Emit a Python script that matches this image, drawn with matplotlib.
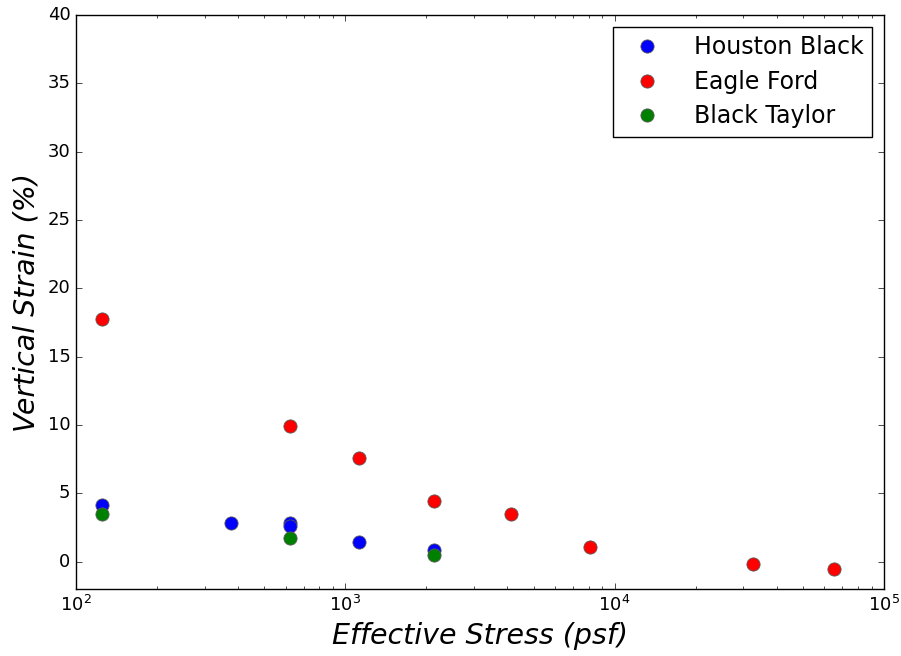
import matplotlib
matplotlib.use('Agg')
import matplotlib.pyplot as plt

plt.style.use('classic')

hb_stress = [125, 375, 625, 625, 1125, 2125]
hb_strain = [4.15, 2.85, 2.85, 2.62, 1.45, 0.88]

ef_stress = [125, 625, 1125, 2125, 4125, 8125, 32500, 65000]
ef_strain = [17.75, 9.9, 7.58, 4.47, 3.47, 1.08, -0.17, -0.56]

bt_stress = [125, 625, 2125]
bt_strain = [3.47, 1.72, 0.48]

fig = plt.figure(figsize=(9.01, 6.56), dpi=100, facecolor='white')
ax = fig.add_axes([0.0844, 0.102, 0.8967, 0.875])

style = dict(linestyle='none', marker='o', markersize=9.5,
             markeredgecolor='0.35', markeredgewidth=0.6)
ax.plot(hb_stress, hb_strain, color='blue', label='Houston Black', **style)
ax.plot(ef_stress, ef_strain, color='red', label='Eagle Ford', **style)
ax.plot(bt_stress, bt_strain, color='green', label='Black Taylor', **style)

ax.set_xscale('log')
ax.set_xlim(1e2, 1e5)
ax.set_ylim(-2, 40)
ax.set_yticks(range(0, 41, 5))
ax.tick_params(labelsize=13)
ax.set_xlabel('Effective Stress (psf)', fontsize=20.5, style='italic')
ax.set_ylabel('Vertical Strain (%)', fontsize=20.5, style='italic')

leg = ax.legend(loc='upper right', numpoints=1, fontsize=17,
                borderpad=0.35, handletextpad=0.9, labelspacing=0.45,
                handlelength=2.2, borderaxespad=0.5)
leg.get_frame().set_linewidth(1.0)

fig.savefig('out.png', dpi=100, facecolor='white')
